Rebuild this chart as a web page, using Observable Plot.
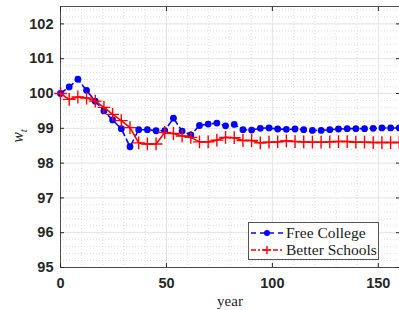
<!DOCTYPE html>
<html>
<head>
<meta charset="utf-8">
<script src="https://cdn.jsdelivr.net/npm/d3@7"></script>
<script src="https://cdn.jsdelivr.net/npm/@observablehq/plot@0.6"></script>
<style>
  html, body { margin: 0; padding: 0; background: #fff; }
  #wrap { position: relative; width: 399px; height: 310px; overflow: hidden; background: #fff; }
  #ylab { position: absolute; left: 19px; top: 136px; transform: translate(-50%, -50%) rotate(-90deg);
          font-family: "Liberation Serif", serif; font-style: italic; font-size: 16px; color: #262626; white-space: nowrap; }
  #ylab sub { font-size: 11px; }
  #xlab { position: absolute; left: 230px; top: 301px; transform: translate(-50%, -50%);
          font-family: "Liberation Serif", serif; font-size: 15px; color: #262626; }
  #legend { position: absolute; left: 248px; top: 222px; width: 131px; height: 38px; box-sizing: border-box;
            border: 1px solid #555; background: #fff; font-family: "Liberation Serif", serif; font-size: 15.5px; color: #1a1a1a; }
  #legend .row { position: absolute; left: 2px; height: 17px; display: flex; align-items: center; white-space: nowrap; }
  #legend svg { margin-right: 3px; }
</style>
</head>
<body>
<div id="wrap">
  <div id="chart"></div>
  <div id="ylab">w<sub>t</sub></div>
  <div id="xlab">year</div>
  <div id="legend"></div>
</div>
<script>
const years = [0, 4.1, 8.2, 12.3, 16.4, 20.5, 24.6, 28.7, 32.8, 36.9, 41, 45.1, 49.2, 53.3, 57.4, 61.5, 65.6, 69.7, 73.8, 77.9,
  82, 86.1, 90.2, 94.3, 98.4, 102.5, 106.6, 110.7, 114.8, 118.9, 123, 127.1, 131.2, 135.3, 139.4, 143.5, 147.6, 151.7, 155.8, 159.9];
const freeCollege = [100.0, 100.19, 100.41, 100.09, 99.78, 99.50, 99.24, 98.99, 98.47, 98.96, 98.96, 98.93, 98.93, 99.29, 98.92, 98.81,
  99.08, 99.12, 99.15, 99.07, 99.11, 98.96, 98.95, 99.00, 99.01, 98.98, 98.97, 98.98, 98.96, 98.94, 98.94, 98.96, 98.98, 98.99,
  98.99, 98.99, 99.00, 99.01, 99.01, 99.01];
const betterSchools = [100.0, 99.83, 99.90, 99.87, 99.78, 99.60, 99.40, 99.22, 99.02, 98.58, 98.55, 98.55, 98.88, 98.85, 98.78, 98.74,
  98.61, 98.61, 98.66, 98.74, 98.73, 98.65, 98.65, 98.58, 98.60, 98.61, 98.64, 98.62, 98.61, 98.60, 98.60, 98.61, 98.62, 98.62,
  98.60, 98.60, 98.59, 98.59, 98.59, 98.59];
const seriesNames = ["Free College", "Better Schools"];
const xTicks = [0, 50, 100, 150];
const yTicks = [95, 96, 97, 98, 99, 100, 101, 102];
const xMinor = [10, 20, 30, 40, 60, 70, 80, 90, 110, 120, 130, 140, 160];
const yMinor = d3.range(95, 102.5, 0.2).map(v => +v.toFixed(1)).filter(v => Math.abs(v - Math.round(v)) > 0.01);

const freeData = years.map((x, i) => ({x, y: freeCollege[i]}));
const betterData = years.map((x, i) => ({x, y: betterSchools[i]}));

const blue = "#0000ff", red = "#ff0000", ink = "#262626";

const chart = Plot.plot({
  width: 399, height: 310,
  marginLeft: 60, marginRight: 0, marginTop: 6, marginBottom: 43,
  x: {domain: [0, 160], label: null},
  y: {domain: [95, 102.5], label: null},
  style: {fontFamily: "Liberation Sans, Arial, sans-serif", fontSize: "14.5px", fontWeight: "bold", color: ink, background: "#fff"},
  marks: [
    Plot.ruleX(xMinor, {stroke: "#d4d4d4", strokeDasharray: "1,2", strokeWidth: 0.8}),
    Plot.ruleY(yMinor, {stroke: "#d4d4d4", strokeDasharray: "1,2", strokeWidth: 0.8}),
    Plot.ruleX(xTicks, {stroke: "#e3e3e3", strokeWidth: 1}),
    Plot.ruleY(yTicks, {stroke: "#e3e3e3", strokeWidth: 1}),
    Plot.axisX({ticks: xTicks, tickSize: 0, tickPadding: 10, stroke: ink}),
    Plot.axisY({ticks: yTicks, tickSize: 0, tickPadding: 7, stroke: ink}),
    Plot.axisX({ticks: xTicks, tickSize: -4, tickFormat: () => "", stroke: ink}),
    Plot.axisX({anchor: "top", ticks: xTicks, tickSize: -4, tickFormat: () => "", stroke: ink}),
    Plot.axisY({ticks: yTicks, tickSize: -4, tickFormat: () => "", stroke: ink}),
    Plot.axisY({anchor: "right", ticks: yTicks, tickSize: -4, tickFormat: () => "", stroke: ink}),
    Plot.frame({stroke: ink, strokeWidth: 0.8}),
    Plot.line(freeData, {x: "x", y: "y", stroke: blue, strokeWidth: 1.6, strokeDasharray: "6,4"}),
    Plot.dot(freeData, {x: "x", y: "y", fill: blue, r: 3.4, stroke: "none"}),
    Plot.line(betterData, {x: "x", y: "y", stroke: red, strokeWidth: 1.6}),
    Plot.dot(betterData, {x: "x", y: "y", symbol: "plus", stroke: red, fill: "none", r: 4.2, strokeWidth: 1.4})
  ]
});
document.getElementById("chart").appendChild(chart);

// legend
const legend = document.getElementById("legend");
const specs = [
  {name: seriesNames[0], color: blue, dash: "5,4", marker: "dot"},
  {name: seriesNames[1], color: red, dash: "5,2,2,2", marker: "plus"}
];
specs.forEach((s, i) => {
  const row = document.createElement("div");
  row.className = "row";
  row.style.top = (1 + i * 17.5) + "px";
  const svg = d3.create("svg").attr("width", 32).attr("height", 14);
  svg.append("line").attr("x1", 0).attr("x2", 32).attr("y1", 7).attr("y2", 7)
    .attr("stroke", s.color).attr("stroke-width", 1.5).attr("stroke-dasharray", s.dash);
  if (s.marker === "dot") {
    svg.append("circle").attr("cx", 16).attr("cy", 7).attr("r", 3).attr("fill", s.color);
  } else {
    svg.append("path").attr("d", "M12,7H20M16,3V11").attr("stroke", s.color).attr("stroke-width", 1.4).attr("fill", "none");
  }
  row.appendChild(svg.node());
  const t = document.createElement("span");
  t.textContent = s.name;
  row.appendChild(t);
  legend.appendChild(row);
});
</script>
</body>
</html>
